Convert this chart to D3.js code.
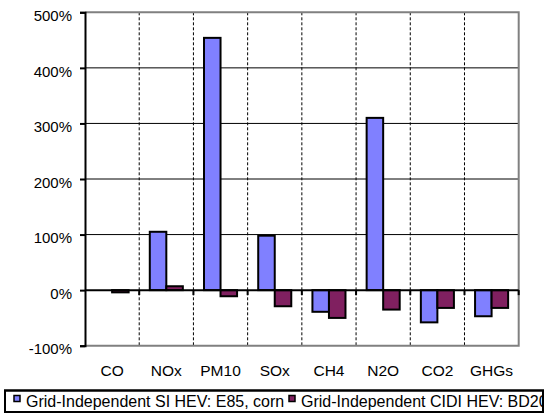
<!DOCTYPE html>
<html><head><meta charset="utf-8">
<script src="https://cdn.jsdelivr.net/npm/d3@7"></script>
<style>body{margin:0;background:#fff}svg{display:block}text{font-family:"Liberation Sans",Arial,sans-serif}</style>
</head><body><svg id="c" width="548" height="414"></svg>
<script>
const categories = ["CO","NOx","PM10","SOx","CH4","N2O","CO2","GHGs"];
const seriesNames = ["Grid-Independent SI HEV: E85, corn","Grid-Independent CIDI HEV: BD20"];
const siHev = [0, 105, 454, 98, -39, 310, -58, -47];
const cidiHev = [-4, 7, -11, -29, -50, -35, -32, -32];
const yTicks = [-100, 0, 100, 200, 300, 400, 500];
const colors = ["#8080FF", "#802060"];

const svg = d3.select("#c");
const L = 85, R = 518.7, T = 12.3, B = 345.7;
const x = d3.scaleBand().domain(categories).range([L, R]).padding(0);
const xs = d3.scaleBand().domain([0,1]).range([0, x.bandwidth()]).paddingInner(0).paddingOuter(0.64);
const y = d3.scaleLinear().domain([-100, 500]).range([B, T]);

// horizontal grid
svg.append("g").selectAll("line").data(yTicks.filter(t => t !== -100 && t !== 500 && t!==0)).join("line")
  .attr("x1", L).attr("x2", R).attr("y1", d => y(d)).attr("y2", d => y(d))
  .attr("stroke", "#000").attr("stroke-width", 1);
// vertical dashed grid at category boundaries
svg.append("g").selectAll("line").data(categories.slice(1)).join("line")
  .attr("x1", d => x(d)).attr("x2", d => x(d)).attr("y1", T).attr("y2", B)
  .attr("stroke", "#000").attr("stroke-width", 1).attr("stroke-dasharray", "3,2");
// gray border top/right/bottom
svg.append("path").attr("d", `M${L},${y(500)}H${R}V${y(-100)}H${L}`)
  .attr("fill", "none").attr("stroke", "#808080").attr("stroke-width", 2);

// bars
const data = [siHev, cidiHev];
const g = svg.append("g");
data.forEach((vals, s) => {
  g.selectAll(null).data(categories).join("rect")
    .attr("x", c => x(c) + xs(s))
    .attr("width", xs.bandwidth())
    .attr("y", (c, i) => y(Math.max(0, vals[i])))
    .attr("height", (c, i) => Math.abs(y(vals[i]) - y(0)))
    .attr("fill", colors[s]).attr("stroke", "#000").attr("stroke-width", 2);
});

// zero axis with ticks
svg.append("line").attr("x1", L).attr("x2", R).attr("y1", y(0)).attr("y2", y(0)).attr("stroke", "#000").attr("stroke-width", 2);
svg.append("g").selectAll("line").data(categories.slice(1).concat(["__end"])).join("line")
  .attr("x1", d => d === "__end" ? R : x(d)).attr("x2", d => d === "__end" ? R : x(d))
  .attr("y1", y(0)).attr("y2", y(0) + 5).attr("stroke", "#000").attr("stroke-width", 2);

// y axis
const yAxis = d3.axisLeft(y).tickValues(yTicks).tickFormat(d => d + "%").tickSize(5).tickPadding(8);
const ya = svg.append("g").attr("transform", `translate(${L},0)`).call(yAxis);
ya.select(".domain").attr("stroke", "#000").attr("stroke-width", 2);
ya.selectAll(".tick line").attr("stroke", "#000").attr("stroke-width", 2);
ya.selectAll("text").attr("font-size", 15).attr("fill", "#000").attr("dy", "0.55em").style("font-family", '"Liberation Sans",Arial,sans-serif');

// category labels
svg.append("g").selectAll("text").data(categories).join("text")
  .attr("x", d => x(d) + x.bandwidth() / 2).attr("y", 375.5)
  .attr("text-anchor", "middle").attr("font-size", 15.5).text(d => d);

// legend
svg.append("clipPath").attr("id", "legclip").append("rect").attr("x", 5).attr("y", 390).attr("width", 538).attr("height", 22);
svg.append("rect").attr("x", 5).attr("y", 390.5).attr("width", 538).attr("height", 21.5)
  .attr("fill", "#fff").attr("stroke", "#000").attr("stroke-width", 2);
const legX = [14, 289];
const lg = svg.append("g").attr("clip-path", "url(#legclip)");
seriesNames.forEach((n, s) => {
  lg.append("rect").attr("x", legX[s]).attr("y", 395.5).attr("width", 6).attr("height", 6)
    .attr("fill", colors[s]).attr("stroke", "#000").attr("stroke-width", 1.5);
  lg.append("text").attr("x", legX[s] + 12).attr("y", 407).attr("font-size", 16).text(n);
});
svg.append("rect").attr("x", 5).attr("y", 390.5).attr("width", 538).attr("height", 21.5)
  .attr("fill", "none").attr("stroke", "#000").attr("stroke-width", 2);
</script></body></html>
